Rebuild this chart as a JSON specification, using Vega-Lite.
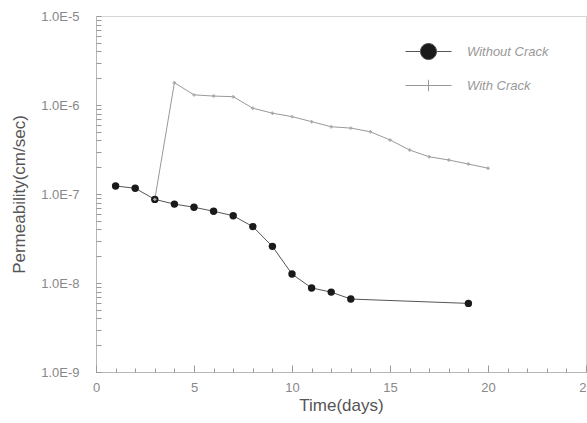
{
  "$schema": "https://vega.github.io/schema/vega-lite/v6.json",
  "autosize": "none",
  "width": 490,
  "height": 356,
  "padding": {"left": 96, "top": 16, "right": 1, "bottom": 51},
  "background": "white",
  "config": {
    "view": {"stroke": "#aaa", "strokeWidth": 1, "strokeDash": [1, 1]},
    "font": "Liberation Sans",
    "axis": {"grid": false, "domainColor": "#999", "domainDash": [1, 1], "tickColor": "#999",
             "labelColor": "#888", "labelFontSize": 13, "titleColor": "#555", "titleFontSize": 17, "titleFontWeight": "normal"}
  },
  "data": {
    "values": [
      {"day": 1, "perm": 1.23e-7, "series": "Without Crack"},
      {"day": 2, "perm": 1.16e-7, "series": "Without Crack"},
      {"day": 3, "perm": 8.7e-8, "series": "Without Crack"},
      {"day": 4, "perm": 7.7e-8, "series": "Without Crack"},
      {"day": 5, "perm": 7.1e-8, "series": "Without Crack"},
      {"day": 6, "perm": 6.4e-8, "series": "Without Crack"},
      {"day": 7, "perm": 5.7e-8, "series": "Without Crack"},
      {"day": 8, "perm": 4.3e-8, "series": "Without Crack"},
      {"day": 9, "perm": 2.58e-8, "series": "Without Crack"},
      {"day": 10, "perm": 1.26e-8, "series": "Without Crack"},
      {"day": 11, "perm": 8.8e-9, "series": "Without Crack"},
      {"day": 12, "perm": 7.9e-9, "series": "Without Crack"},
      {"day": 13, "perm": 6.6e-9, "series": "Without Crack"},
      {"day": 19, "perm": 5.9e-9, "series": "Without Crack"},
      {"day": 3, "perm": 8.7e-8, "series": "With Crack"},
      {"day": 4, "perm": 1.78e-6, "series": "With Crack"},
      {"day": 5, "perm": 1.3e-6, "series": "With Crack"},
      {"day": 6, "perm": 1.26e-6, "series": "With Crack"},
      {"day": 7, "perm": 1.24e-6, "series": "With Crack"},
      {"day": 8, "perm": 9.2e-7, "series": "With Crack"},
      {"day": 9, "perm": 8.1e-7, "series": "With Crack"},
      {"day": 10, "perm": 7.4e-7, "series": "With Crack"},
      {"day": 11, "perm": 6.5e-7, "series": "With Crack"},
      {"day": 12, "perm": 5.7e-7, "series": "With Crack"},
      {"day": 13, "perm": 5.5e-7, "series": "With Crack"},
      {"day": 14, "perm": 5.0e-7, "series": "With Crack"},
      {"day": 15, "perm": 4.05e-7, "series": "With Crack"},
      {"day": 16, "perm": 3.12e-7, "series": "With Crack"},
      {"day": 17, "perm": 2.62e-7, "series": "With Crack"},
      {"day": 18, "perm": 2.41e-7, "series": "With Crack"},
      {"day": 19, "perm": 2.17e-7, "series": "With Crack"},
      {"day": 20, "perm": 1.95e-7, "series": "With Crack"}
    ]
  },
  "encoding": {
    "x": {"field": "day", "type": "quantitative", "title": "Time(days)",
          "scale": {"domain": [0, 25], "nice": false},
          "axis": {"values": [0,1,2,3,4,5,6,7,8,9,10,11,12,13,14,15,16,17,18,19,20,21,22,23,24,25],
                   "labelExpr": "datum.value % 5 == 0 ? datum.label : ''",
                   "tickSize": {"condition": {"test": "datum.value % 5 == 0", "value": -7}, "value": -4},
                   "labelPadding": 16, "titlePadding": 3, "labelFlush": false}},
    "y": {"field": "perm", "type": "quantitative", "title": "Permeability(cm/sec)",
          "scale": {"type": "log", "domain": [1e-9, 1e-5], "nice": false},
          "axis": {"values": [1e-9,2e-9,3e-9,4e-9,5e-9,6e-9,7e-9,8e-9,9e-9,1e-8,2e-8,3e-8,4e-8,5e-8,6e-8,7e-8,8e-8,9e-8,1e-7,2e-7,3e-7,4e-7,5e-7,6e-7,7e-7,8e-7,9e-7,1e-6,2e-6,3e-6,4e-6,5e-6,6e-6,7e-6,8e-6,9e-6,1e-5],
                   "labelExpr": "abs(log(datum.value)/LN10 - round(log(datum.value)/LN10)) < 0.001 ? '1.0E' + round(log(datum.value)/LN10) : ''",
                   "tickSize": -5,
                   "labelPadding": 22, "titlePadding": 12, "labelFlush": false}}
  },
  "layer": [
    {
      "mark": {"type": "line", "strokeWidth": 1},
      "encoding": {
        "color": {"field": "series", "type": "nominal",
                  "scale": {"domain": ["Without Crack", "With Crack"], "range": ["#555", "#999"]},
                  "legend": {"title": null, "orient": "none", "legendX": 309, "legendY": 12,
                             "labelFontSize": 13, "labelColor": "#999", "labelFontStyle": "italic",
                             "rowPadding": -26, "labelOffset": 15, "symbolSize": 2116,
                             "symbolType": "M-1,0H1", "symbolStrokeWidth": 1,
                             "encode": {"symbols": {"update": {
                               "shape": {"signal": "datum.value == 'Without Crack' ? 'M-1,0H-0.35A0.35,0.35 0 1,1 0.35,0H1M0.35,0A0.35,0.35 0 1,1 -0.35,0' : 'M-1,0H1M0,-0.25V0.25'"},
                               "fill": {"signal": "datum.value == 'Without Crack' ? '#1a1a1a' : 'transparent'"},
                               "stroke": {"signal": "datum.value == 'Without Crack' ? '#666' : '#999'"},
                               "strokeWidth": {"value": 1},
                               "size": {"value": 2116}
                             }}}}}
      }
    },
    {
      "transform": [{"filter": "datum.series == 'Without Crack'"}],
      "mark": {"type": "point", "shape": "circle", "filled": true, "opacity": 1, "color": "#1a1a1a", "size": 55}
    },
    {
      "transform": [{"filter": "datum.series == 'With Crack'"}],
      "mark": {"type": "point", "shape": "cross", "filled": true, "opacity": 1, "color": "#aaa", "size": 12}
    }
  ]
}
